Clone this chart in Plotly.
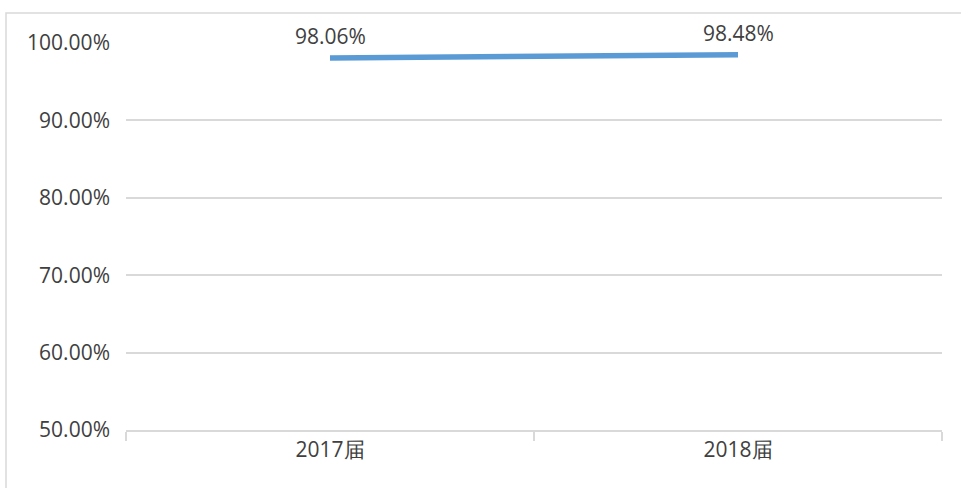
import plotly.graph_objects as go

categories = ["2017届", "2018届"]
values = [98.06, 98.48]
value_labels = ["98.06%", "98.48%"]
y_ticks = [50, 60, 70, 80, 90, 100]
y_tick_labels = ["50.00%", "60.00%", "70.00%", "80.00%", "90.00%", "100.00%"]

W, H = 961, 488
L, R, T, B = 126, 19, 43, 58
pw, ph = W - L - R, H - T - B

fig = go.Figure()
fig.add_trace(go.Scatter(
    x=categories, y=values, mode="lines",
    line=dict(color="#5B9BD5", width=5.5),
    hoverinfo="skip", showlegend=False,
))
for c, v, t in zip(categories, values, value_labels):
    fig.add_annotation(x=c, y=v, text=t, showarrow=False, yshift=22,
                       font=dict(size=21, color="#404040", family="Open Sans"))

# outer chart border (extends past the right/bottom edges)
fig.add_shape(type="rect", xref="paper", yref="paper",
              x0=(6 - L) / pw, x1=(W + 10 - L) / pw,
              y0=-(B + 10) / ph, y1=(H - 13 - B) / ph,
              line=dict(color="#d9d9d9", width=1.5), fillcolor="rgba(0,0,0,0)", layer="below")

fig.update_layout(
    width=W, height=H,
    margin=dict(l=L, r=R, t=T, b=B),
    paper_bgcolor="white", plot_bgcolor="white",
    font=dict(family="Open Sans", color="#404040", size=21),
    xaxis=dict(
        type="category", range=[-0.5, 1.5],
        showline=True, linecolor="#d9d9d9", linewidth=1.5,
        ticks="outside", tickson="boundaries", ticklen=9, tickcolor="#d9d9d9", tickwidth=1.5,
        showgrid=False, tickfont=dict(size=21, color="#404040"),
        fixedrange=True,
    ),
    yaxis=dict(
        range=[50, 100], tickvals=y_ticks, ticktext=y_tick_labels,
        showgrid=True, gridcolor="#d9d9d9", gridwidth=1.5,
        zeroline=False, showline=False, ticks="",
        ticklabelstandoff=15,
        tickfont=dict(size=21, color="#404040"),
        fixedrange=True,
    ),
)

fig.write_html("out.html", config={"displayModeBar": False},
               post_script="document.body.style.margin='0';")
